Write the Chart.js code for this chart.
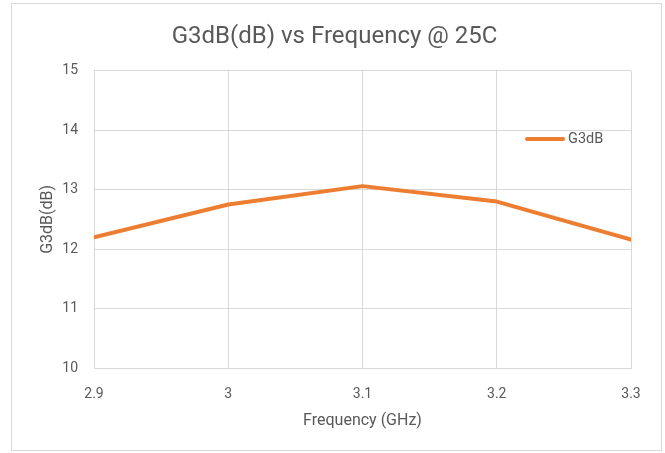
<!DOCTYPE html>
<html>
<head>
<meta charset="utf-8">
<script src="https://cdn.jsdelivr.net/npm/chart.js@4.4.1/dist/chart.umd.min.js"></script>
<style>
  html, body { margin: 0; padding: 0; background: #fff; }
  #wrap { width: 665px; height: 453px; position: relative; }
</style>
</head>
<body>
<div id="wrap"><canvas id="lineChart" width="665" height="453"></canvas></div>
<script>
const freqs = [2.9, 3.0, 3.1, 3.2, 3.3];
const g3db = [12.2, 12.75, 13.06, 12.8, 12.16];
const seriesName = 'G3dB';

const textColor = '#595959';
const gridColor = '#d9d9d9';
const lineColor = '#ED7D31';
const fontFamily = "'Roboto', sans-serif";

// outer frame round the whole chart
const frame = {
  id: 'frame',
  beforeDraw(chart) {
    const c = chart.ctx;
    c.save();
    c.fillStyle = '#fff';
    c.fillRect(0, 0, chart.width, chart.height);
    c.strokeStyle = gridColor;
    c.lineWidth = 1;
    c.strokeRect(11.5, 3.5, 650, 447);
    c.restore();
  }
};

// legend sitting inside the plot area, top right
const innerLegend = {
  id: 'innerLegend',
  afterDraw(chart) {
    const c = chart.ctx;
    const y = 139;
    c.save();
    c.strokeStyle = lineColor;
    c.lineWidth = 4;
    c.lineCap = 'round';
    c.beginPath();
    c.moveTo(527, y);
    c.lineTo(563, y);
    c.stroke();
    c.fillStyle = textColor;
    c.font = '14.5px ' + fontFamily;
    c.textBaseline = 'middle';
    c.fillText(chart.data.datasets[0].label, 568, y);
    c.restore();
  }
};

new Chart(document.getElementById('lineChart'), {
  type: 'line',
  data: {
    datasets: [{
      label: seriesName,
      data: freqs.map((f, i) => ({ x: f, y: g3db[i] })),
      borderColor: lineColor,
      borderWidth: 4,
      pointRadius: 0,
      tension: 0,
      borderCapStyle: 'round',
      borderJoinStyle: 'round'
    }]
  },
  options: {
    responsive: false,
    animation: false,
    layout: { padding: { left: 38, right: 34, top: 0, bottom: 22 } },
    plugins: {
      legend: { display: false },
      tooltip: { enabled: false },
      title: {
        display: true,
        text: 'G3dB(dB) vs Frequency @ 25C',
        color: textColor,
        font: { family: fontFamily, size: 24, weight: 'normal' },
        padding: { top: 23, bottom: 19 }
      }
    },
    scales: {
      x: {
        type: 'linear',
        min: 2.9,
        max: 3.3,
        afterFit(s) { s.height = 63; },
        ticks: {
          stepSize: 0.1,
          color: textColor,
          font: { family: fontFamily, size: 14 },
          padding: 18,
          callback: v => String(Math.round(v * 10) / 10)
        },
        grid: { color: gridColor, drawTicks: false },
        border: { color: gridColor },
        title: {
          display: true,
          text: 'Frequency (GHz)',
          color: textColor,
          font: { family: fontFamily, size: 16 },
          padding: { top: 6, bottom: 0 }
        }
      },
      y: {
        min: 10,
        max: 15,
        afterFit(s) { s.width = 56; },
        ticks: {
          stepSize: 1,
          color: textColor,
          font: { family: fontFamily, size: 14 },
          padding: 16
        },
        grid: { color: gridColor, drawTicks: false },
        border: { color: gridColor },
        title: {
          display: true,
          text: 'G3dB(dB)',
          color: textColor,
          font: { family: fontFamily, size: 16 },
          padding: { top: 0, bottom: 0 }
        }
      }
    }
  },
  plugins: [frame, innerLegend]
});
</script>
</body>
</html>
